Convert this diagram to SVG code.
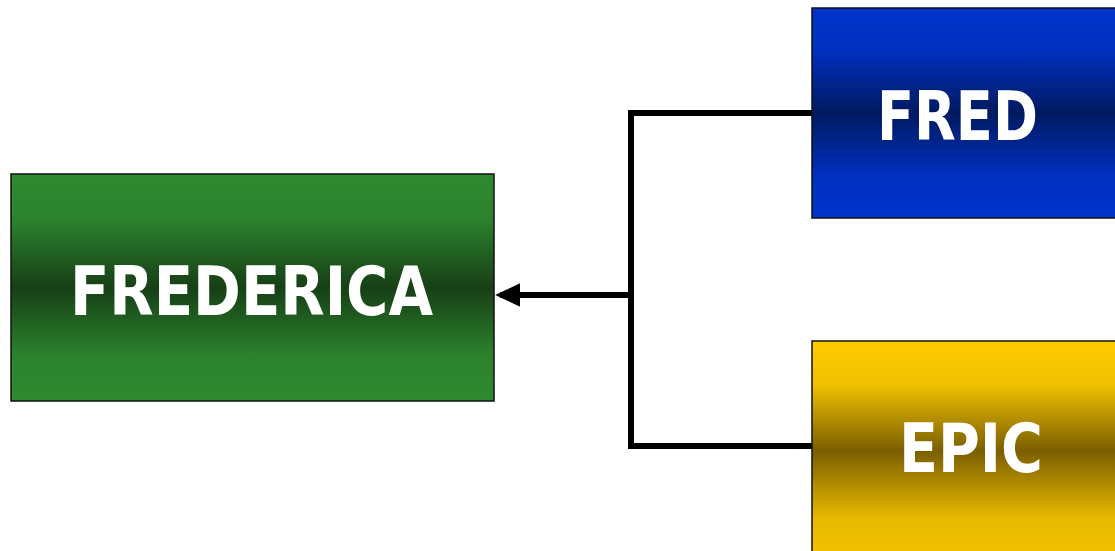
<svg xmlns="http://www.w3.org/2000/svg" width="1115" height="551" viewBox="0 0 1115 551">
<defs>
<linearGradient id="gGreen" x1="0" y1="0" x2="0" y2="1">
<stop offset="0" stop-color="#2e8a30"/><stop offset="0.2" stop-color="#2b822d"/><stop offset="0.5" stop-color="#173f16"/><stop offset="0.8" stop-color="#2b822d"/><stop offset="1" stop-color="#2e8a30"/>
</linearGradient>
<linearGradient id="gBlue" x1="0" y1="0" x2="0" y2="1">
<stop offset="0" stop-color="#0033cc"/><stop offset="0.2" stop-color="#0030c0"/><stop offset="0.5" stop-color="#001a60"/><stop offset="0.8" stop-color="#0030c0"/><stop offset="1" stop-color="#0033cc"/>
</linearGradient>
<linearGradient id="gYellow" x1="0" y1="0" x2="0" y2="1">
<stop offset="0" stop-color="#ffcc00"/><stop offset="0.2" stop-color="#efc000"/><stop offset="0.5" stop-color="#7a5f00"/><stop offset="0.8" stop-color="#e6b800"/><stop offset="1" stop-color="#f5c400"/>
</linearGradient>
<marker id="arr" markerWidth="6" markerHeight="6" refX="3.4" refY="3" orient="auto" markerUnits="strokeWidth">
<path d="M0,1 L4.2,3 L0,5 Z" fill="#000"/>
</marker>
</defs>
<style>
.box{stroke:#111;stroke-width:1.5}
.lbl{font-family:"Comic Sans MS","DejaVu Sans",sans-serif;font-weight:bold;fill:#fff;font-size:68px}
.conn{fill:none;stroke:#000;stroke-width:6}
</style>
<g id="connectors">
<path class="conn" d="M812,113 H631 V446 H812"/>
<path class="conn" d="M631,295 H500" marker-end="url(#arr)"/>
</g>
<g id="node-frederica">
<rect class="box" x="11" y="174" width="483" height="227" fill="url(#gGreen)"/>
<text class="lbl" x="70" y="315" textLength="363" lengthAdjust="spacingAndGlyphs">FREDERICA</text>
</g>
<g id="node-fred">
<rect class="box" x="812" y="8" width="320" height="210" fill="url(#gBlue)"/>
<text class="lbl" x="877" y="140" textLength="161" lengthAdjust="spacingAndGlyphs">FRED</text>
</g>
<g id="node-epic">
<rect class="box" x="812" y="341" width="320" height="220" fill="url(#gYellow)"/>
<text class="lbl" x="899" y="472" textLength="144" lengthAdjust="spacingAndGlyphs">EPIC</text>
</g>
</svg>
